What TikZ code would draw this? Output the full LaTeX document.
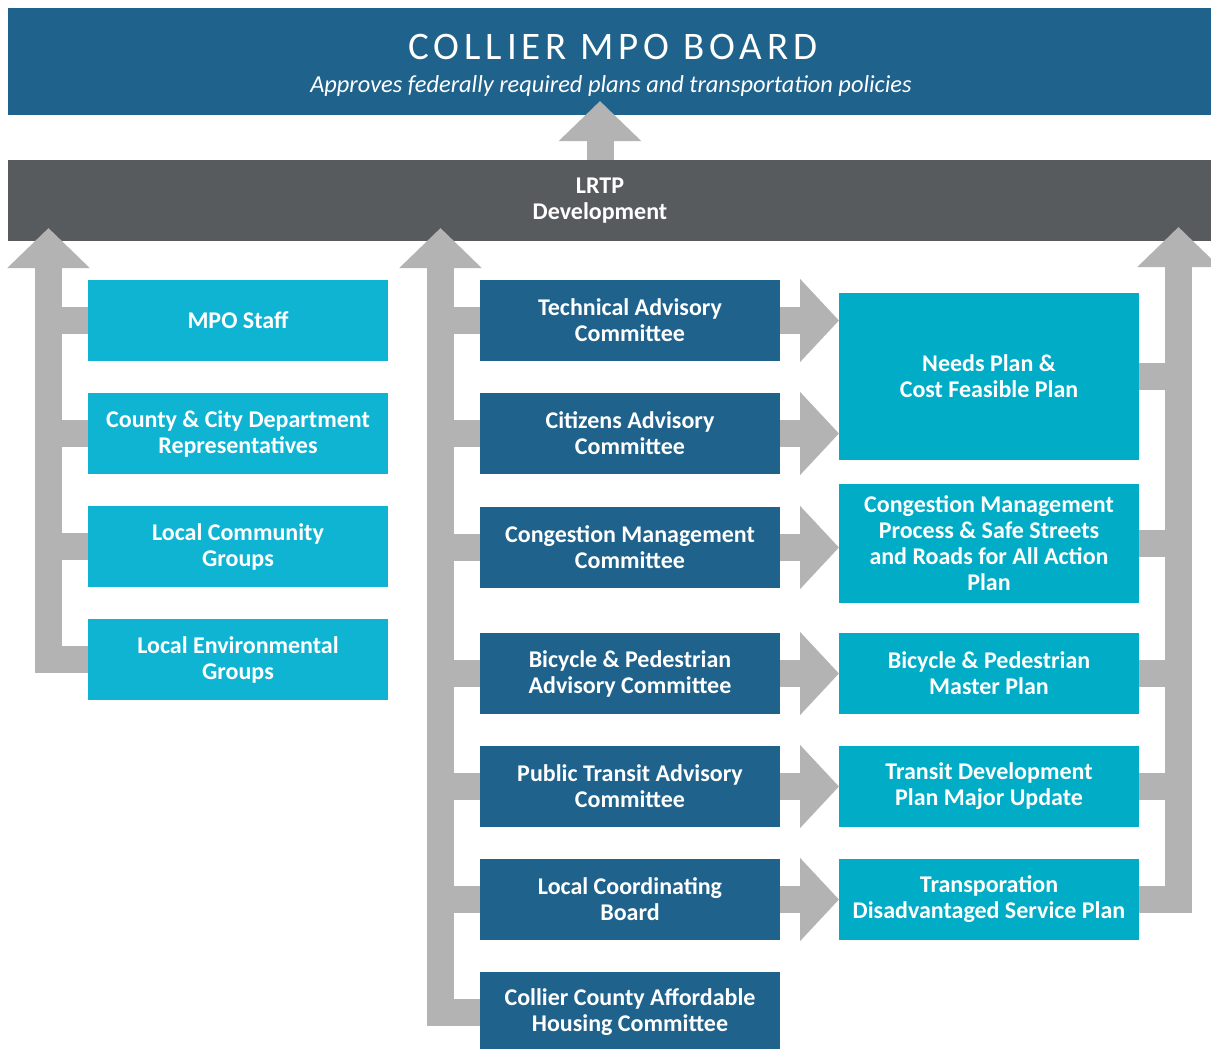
\documentclass[tikz,border=0pt]{standalone}
\usepackage{fontspec}
\setmainfont{Carlito}
\usetikzlibrary{positioning,arrows.meta}

\definecolor{boardblue}{RGB}{31,98,140}
\definecolor{lrtpgray}{RGB}{88,91,94}
\definecolor{groupcyan}{RGB}{16,180,211}
\definecolor{plancyan}{RGB}{0,172,198}
\definecolor{flowgray}{RGB}{179,179,179}

\begin{document}
\begin{tikzpicture}[x=0.5pt, y=-0.5pt, node distance=16pt,
	box/.style={minimum width=150pt, minimum height=40.5pt, inner sep=0pt, outer sep=0pt, align=center, text=white, font=\bfseries\fontsize{12}{13}\selectfont},
	group/.style={box, fill=groupcyan},
	cttee/.style={box, fill=boardblue},
	plan/.style={box, fill=plancyan},
	band/.style={minimum width=601.5pt, inner sep=0pt, outer sep=0pt},
	flow/.style={draw=flowgray, line width=13.5pt},
	uphead/.style={flow, -{Triangle[length=20pt, width=40pt]}},
	sidehead/.style={flow, -{Triangle[length=19.5pt, width=40.5pt]}}]
	\useasboundingbox[fill=white] (0,0) rectangle (1211,1049);

	% board and LRTP bands
	\node[band, fill=boardblue, minimum height=53.5pt] (board) at (609.5,61.5) {};
	\node[text=white, font=\fontsize{19.5}{20}\selectfont\addfontfeature{LetterSpace=12.5}] (title) at (613,47) {COLLIER MPO BOARD};
	\node[text=white, font=\itshape\fontsize{12.2}{13}\selectfont] (subtitle) at (611,86) {Approves federally required plans and transportation policies};
	\node[band, fill=lrtpgray, minimum height=40.5pt] (lrtp) at (609.5,200.5) {};
	\node[text=white, align=center, font=\bfseries\fontsize{12}{13}\selectfont] (lrtptext) at (600,201) {LRTP\\Development};

	% left column
	\node[group, anchor=north west] (staff) at (88,280) {MPO Staff};
	\node[group, below=of staff] (county) {County \& City Department\\Representatives};
	\node[group, below=of county] (community) {Local Community\\Groups};
	\node[group, below=of community] (envir) {Local Environmental\\Groups};

	% committees
	\node[cttee, right=46pt of staff] (tac) {Technical Advisory\\Committee};
	\node[cttee, below=of tac] (cac) {Citizens Advisory\\Committee};
	\node[cttee, below=16.5pt of cac] (cmc) {Congestion Management\\Committee};
	\node[cttee, below=22.5pt of cmc] (bpac) {Bicycle \& Pedestrian\\Advisory Committee};
	\node[cttee, below=of bpac] (ptac) {Public Transit Advisory\\Committee};
	\node[cttee, below=of ptac] (lcb) {Local Coordinating\\Board};
	\node[cttee, below=of lcb] (housing) {Collier County Affordable\\Housing Committee};

	% plans
	\node[plan, anchor=north west, minimum height=83.5pt] (needs) at (839,293) {Needs Plan \&\\Cost Feasible Plan};
	\node[plan, below=12pt of needs, minimum height=59.5pt] (cmp) {Congestion Management\\Process \& Safe Streets\\and Roads for All Action\\Plan};
	\node[plan, right=29.5pt of bpac] (bikeplan) {Bicycle \& Pedestrian\\Master Plan};
	\node[plan, right=29.5pt of ptac] (tdp) {Transit Development\\Plan Major Update};
	\node[plan, right=29.5pt of lcb] (tdsp) {Transporation\\Disadvantaged Service Plan};

	% arrow tips
	\coordinate (lefttip) at (48.5,228);
	\coordinate (midtip) at (440.5,228);
	\coordinate (righttip) at (1178.5,227);

	\draw[uphead] (lrtp.north -| lrtptext) -- ([yshift=7pt]board.south -| lrtptext);

	\draw[uphead] (envir.west) -| (lefttip);
	\foreach \n in {staff, county, community}
		\draw[flow] (\n.west) -- (\n.west -| lefttip);

	\draw[uphead] (housing.west) -| (midtip);
	\foreach \n in {tac, cac, cmc, bpac, ptac, lcb}
		\draw[flow] (\n.west) -- (\n.west -| midtip);

	\draw[uphead] (tdsp.east) -| (righttip);
	\foreach \n in {needs, cmp, bikeplan, tdp}
		\draw[flow] (\n.east) -- (\n.east -| righttip);

	\foreach \a/\b in {tac/needs, cac/needs, cmc/cmp, bpac/bikeplan, ptac/tdp, lcb/tdsp}
		\draw[sidehead] (\a.east) -- (\a.east -| \b.west);
\end{tikzpicture}
\end{document}
